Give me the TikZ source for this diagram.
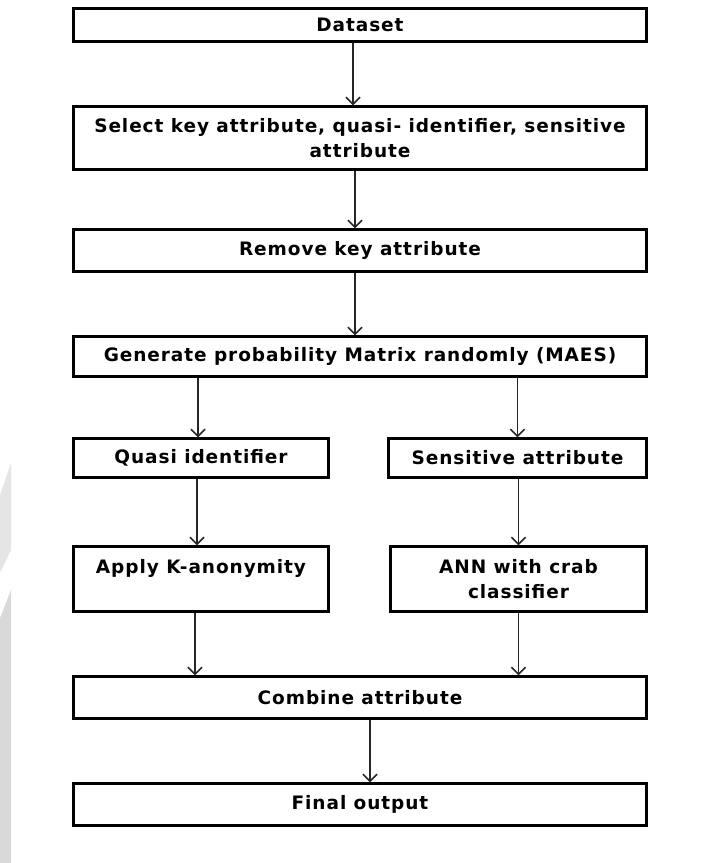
\documentclass[tikz,border=0pt]{standalone}
\usepackage{fontspec}
\setmainfont{DejaVu Sans}[LetterSpace=5.0]
\usepackage{xcolor}
\definecolor{watermark}{rgb}{0.90,0.90,0.90}
\definecolor{watermarkdark}{rgb}{0.85,0.85,0.85}
\usetikzlibrary{arrows.meta}
\usetikzlibrary{calc}
\tikzset{flowbox/.style={draw=black, line width=2.5pt, fill=white, inner sep=0pt,
		align=center, font=\bfseries\fontsize{18.5}{25}\selectfont},
	flowarrow/.style={draw=black!85, line width=1.5pt,
		-{Straight Barb[length=7pt,width=14pt]}}}

\begin{document}
\begin{tikzpicture}[x=1pt, y=-1pt]
	\useasboundingbox (0,0) rectangle (701,863);
	
	% watermark at the left edge
	\fill[watermark] (0,495) -- (11,463) -- (11,550) -- (0,573) -- cycle;
	\fill[watermarkdark] (0,618) -- (11,590) -- (11,863) -- (0,863) -- cycle;
	
	% main column
	\node[flowbox, minimum width=573pt, minimum height=33pt] (dataset) at (360,25) {Dataset};
	\node[flowbox, minimum width=573pt, minimum height=63pt] (select) at (360,138)
	{Select key attribute, quasi- identifier, sensitive\\attribute};
	\node[flowbox, minimum width=573pt, minimum height=42pt] (remove) at (360,250.5) {Remove key attribute};
	\node[flowbox, minimum width=573pt, minimum height=40pt] (generate) at (360,356.5)
	{Generate probability Matrix randomly (MAES)};
	
	% left branch
	\node[flowbox, minimum width=255pt, minimum height=39pt] (quasi) at (201,458) {Quasi identifier};
	\node[flowbox, minimum width=255pt, minimum height=65pt] (apply) at (201,579) {Apply K-anonymity\\\mbox{}};
	
	% right branch
	\node[flowbox, minimum width=258pt, minimum height=39pt] (sensitive) at (517.5,458) {Sensitive attribute};
	\node[flowbox, minimum width=256pt, minimum height=65pt] (ann) at (518.5,579) {ANN with crab\\classifier};
	
	% merge
	\node[flowbox, minimum width=573pt, minimum height=42pt] (combine) at (360,697.5) {Combine attribute};
	\node[flowbox, minimum width=573pt, minimum height=42pt] (final) at (360,804.5) {Final output};
	
	% arrows
	\draw[flowarrow] ([xshift=-7pt]dataset.south) -- ([xshift=-7pt]select.north);
	\draw[flowarrow] ([xshift=-5pt]select.south) -- ([xshift=-5pt]remove.north);
	\draw[flowarrow] ([xshift=-5pt]remove.south) -- ([xshift=-5pt]generate.north);
	\draw[flowarrow] ([xshift=-3pt]quasi.north |- generate.south) -- ([xshift=-3pt]quasi.north);
	\draw[flowarrow] (sensitive.north |- generate.south) -- (sensitive.north);
	\draw[flowarrow] ([xshift=-4pt]quasi.south) -- ([xshift=-4pt]apply.north);
	\draw[flowarrow] (ann.north |- sensitive.south) -- (ann.north);
	\draw[flowarrow] ([xshift=-6pt]apply.south) -- ([xshift=-6pt]apply.south |- combine.north);
	\draw[flowarrow] (ann.south) -- (ann.south |- combine.north);
	\draw[flowarrow] ([xshift=10pt]combine.south) -- ([xshift=10pt]final.north);
	
\end{tikzpicture}
\end{document}
